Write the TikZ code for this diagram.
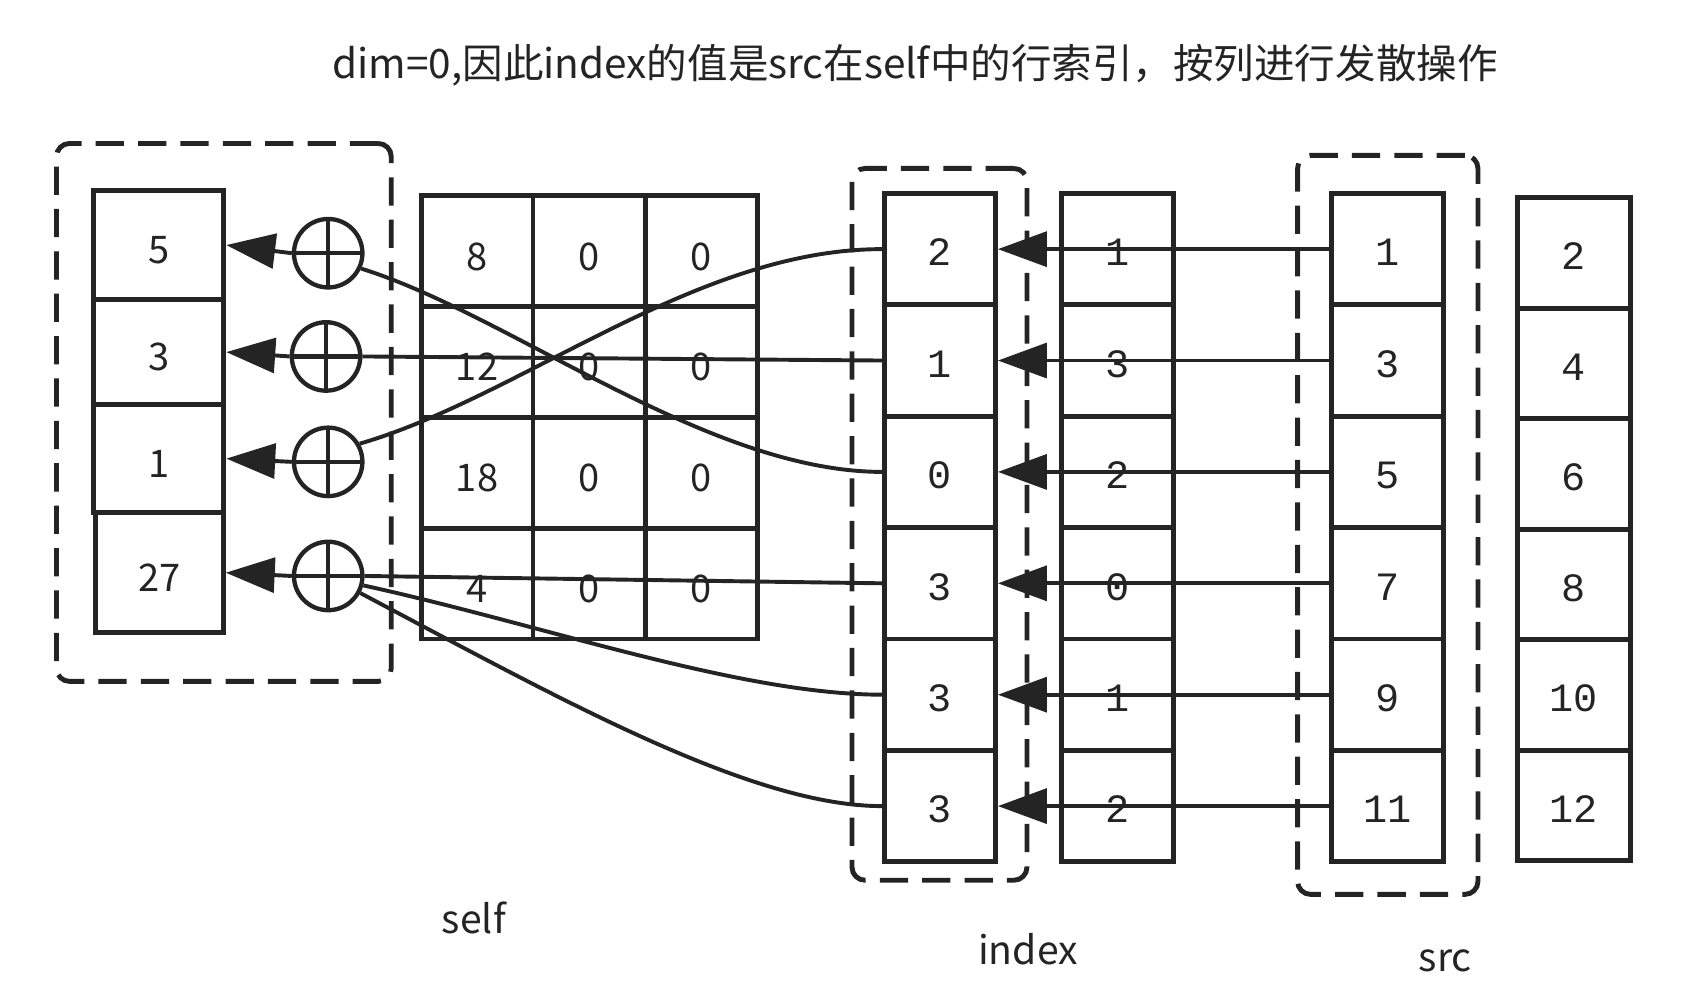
\documentclass[tikz,border=0pt]{standalone}
\usepackage{fontspec}
\setmainfont{Noto Sans CJK SC}
\newfontfamily\monof{Liberation Mono}
\usetikzlibrary{arrows.meta}
\definecolor{ink}{HTML}{242424}
\begin{document}
\begin{tikzpicture}[x=1pt,y=-1pt,
  cellbase/.style={draw=ink, line width=4.5pt, inner sep=0pt, text=ink},
  rcell/.style={cellbase, minimum width=120pt, font=\fontsize{35}{40}\selectfont, text height=34pt, text depth=0pt},
  scell/.style={cellbase, minimum width=103pt, minimum height=102pt, font=\fontsize{35}{40}\selectfont, text height=35pt, text depth=0pt},
  icell/.style={cellbase, minimum width=102pt, minimum height=102.5pt, font=\monof\fontsize{37}{40}\selectfont, text height=31pt, text depth=0pt},
  bcell/.style={cellbase, minimum width=104pt, minimum height=101.7pt, font=\monof\fontsize{37}{40}\selectfont, text height=31pt, text depth=0pt},
  dbox/.style={draw=ink, line width=4.5pt, dash pattern=on 26pt off 13pt, rounded corners=12pt, inner sep=0pt},
  oplus/.style={circle, draw=ink, fill=white, line width=4pt, minimum size=63pt, inner sep=0pt,
    path picture={\draw[ink, line width=4pt] (path picture bounding box.north) -- (path picture bounding box.south)
      (path picture bounding box.east) -- (path picture bounding box.west);}},
  conn/.style={draw=ink, line width=3.6pt},
  arr/.style={conn, -{Triangle[length=45pt,width=32pt]}},
  lbl/.style={text=ink, font=\fontsize{36}{40}\selectfont}
]
\useasboundingbox (0,0) rectangle (1568,907);

% title
\node[lbl, font=\fontsize{37.3}{40}\selectfont] (title) at (842,60) {dim=0,因此index的值是src在self中的行索引，按列进行发散操作};

% dashed groups
\node[dbox, minimum width=308pt, minimum height=495pt] (gL) at (206,379.5) {};
\node[dbox, minimum width=161pt, minimum height=655pt] (gI) at (864.5,482.5) {};
\node[dbox, minimum width=166pt, minimum height=680pt] (gS) at (1277,483) {};

% result column
\node[rcell, minimum height=101pt] (r1) at (146,225.5) {5};
\node[rcell, minimum height=96pt] (r2) at (146,324) {3};
\node[rcell, minimum height=100pt] (r3) at (146,422) {1};
\node[rcell, minimum height=110pt, minimum width=118pt] (r4) at (146.5,527) {27};

% self matrix
\foreach \a/\b/\c [count=\i] in {8/0/0,12/0/0,18/0/0,4/0/0}{
  \node[scell] (s\i a) at (439,{231+102*(\i-1)}) {\a};
  \node[scell] (s\i b) at (542,{231+102*(\i-1)}) {\b};
  \node[scell] (s\i c) at (645.5,{231+102*(\i-1)}) {\c};
}

% index column and its neighbour
\foreach \v [count=\i] in {2,1,0,3,3,3}
  \node[icell] (idx\i) at (865,{229.25+102.5*(\i-1)}) {\v};
\foreach \v [count=\i] in {1,3,2,0,1,2}
  \node[icell, minimum width=103pt] (m\i) at (1028.5,{229.25+102.5*(\i-1)}) {\v};

% src columns
\foreach \v [count=\i] in {1,3,5,7,9,11}
  \node[icell, minimum width=103pt] (src\i) at (1276.5,{229.25+102.5*(\i-1)}) {\v};
\foreach \v [count=\i] in {2,4,6,8,10,12}
  \node[bcell] (b\i) at (1448,{232.8+101.7*(\i-1)}) {\v};

% labels
\node[lbl] (lself) at (436,845) {self};
\node[lbl] (lidx) at (946,873) {index};
\node[lbl] (lsrc) at (1330,884) {src};

% src -> index
\foreach \i in {1,...,6}
  \draw[arr] (src\i.west) -- (idx\i.east);

% circles
\node[oplus] (c1) at (302,233) {};
\node[oplus] (c2) at (300,328) {};
\node[oplus] (c3) at (302,425) {};
\node[oplus] (c4) at (302,530) {};

% index -> circles
\draw[conn] (idx1.west) .. controls (640,229) and (480,365) .. (c3.30);
\draw[conn] (idx2.west) -- (c2.east);
\draw[conn] (idx3.west) .. controls (650,434) and (470,290) .. (c1.-25);
\draw[conn] (idx4.west) -- (c4.east);
\draw[conn] (idx5.west) .. controls (680,639) and (500,575) .. (c4.-15);
\draw[conn] (idx6.west) .. controls (690,742) and (510,640) .. (c4.-28);

% circles -> result
\draw[arr] (c1.west) -- (r1.east);
\draw[arr] (c2.west) -- (r2.east);
\draw[arr] (c3.west) -- (r3.east);
\draw[arr] (c4.west) -- (r4.east);
\end{tikzpicture}
\end{document}
